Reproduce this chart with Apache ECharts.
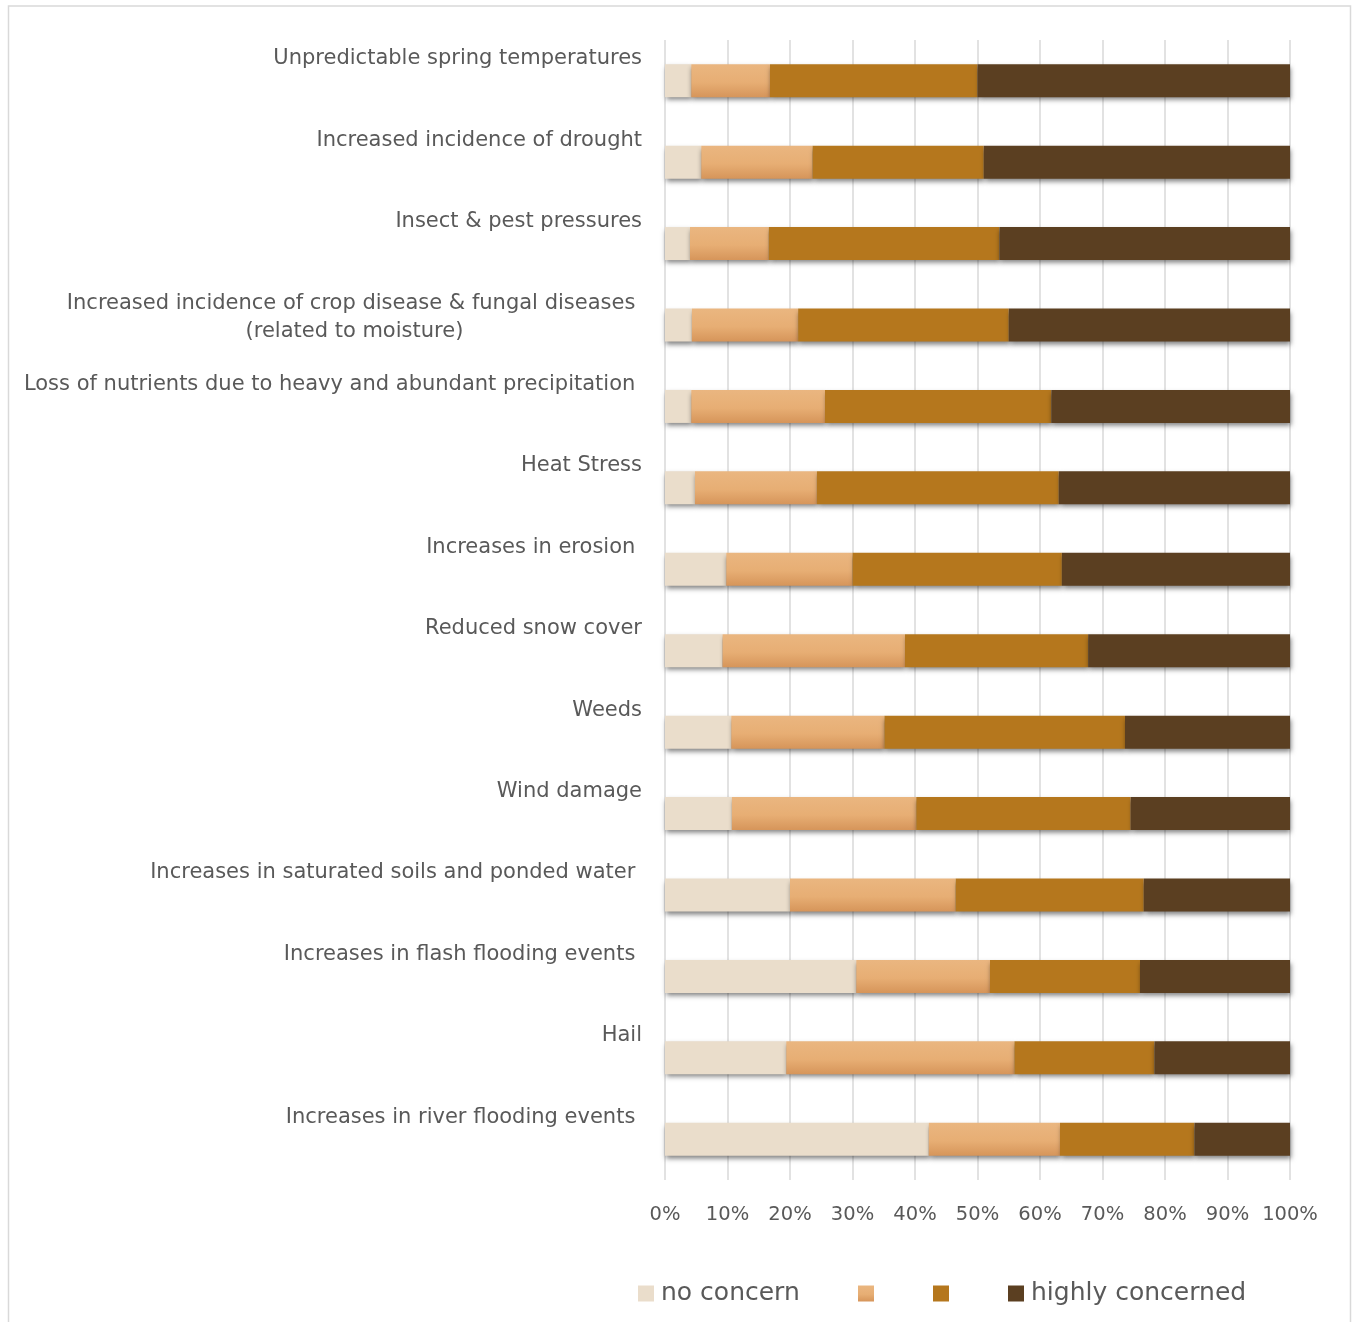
<!DOCTYPE html>
<html>
<head>
<meta charset="utf-8">
<script src="https://cdn.jsdelivr.net/npm/echarts@6/dist/echarts.min.js"></script>
<style>
html,body{margin:0;padding:0;background:#fff;}
#chart{position:absolute;left:0;top:0;width:1353px;height:1322px;}
</style>
</head>
<body>
<div id="chart"></div>
<script>
// Categories (top to bottom); trailing spaces mirror the source labels
const categories = [
  'Unpredictable spring temperatures',
  'Increased incidence of drought',
  'Insect & pest pressures',
  'Increased incidence of crop disease & fungal diseases \n(related to moisture)',
  'Loss of nutrients due to heavy and abundant precipitation ',
  'Heat Stress',
  'Increases in erosion ',
  'Reduced snow cover',
  'Weeds',
  'Wind damage',
  'Increases in saturated soils and ponded water ',
  'Increases in flash flooding events ',
  'Hail',
  'Increases in river flooding events '
];
const seriesNames = ['no concern', ' ', '  ', 'highly concerned'];
// Percent shares
const noConcern       = [4.2, 5.8, 4.0, 4.3, 4.2, 4.8, 9.8, 9.2, 10.6, 10.7, 20.0, 30.6, 19.4, 42.2];
const someConcern     = [12.6, 17.8, 12.6, 17.0, 21.4, 19.5, 20.2, 29.2, 24.5, 29.5, 26.5, 21.4, 36.5, 21.0];
const concerned       = [33.2, 27.4, 36.9, 33.7, 36.2, 38.7, 33.5, 29.3, 38.5, 34.3, 30.1, 24.0, 22.4, 21.5];
const highlyConcerned = [50.0, 49.0, 46.5, 45.0, 38.2, 37.0, 36.5, 32.3, 26.4, 25.5, 23.4, 24.0, 21.7, 15.3];
const xTicks = [0, 10, 20, 30, 40, 50, 60, 70, 80, 90, 100];

const FONT = 'DejaVu Sans';
const TXT = '#595959';

const shadow = {
  shadowColor: 'rgba(0,0,0,0.5)',
  shadowBlur: 5,
  shadowOffsetX: 1,
  shadowOffsetY: 3
};
const colors = [
  '#EADDCB',
  new echarts.graphic.LinearGradient(0, 0, 0, 1, [
    { offset: 0, color: '#EAB680' },
    { offset: 0.55, color: '#E7AE74' },
    { offset: 1, color: '#D6955A' }
  ]),
  '#B5771D',
  '#5B3F21'
];
const values = [noConcern, someConcern, concerned, highlyConcerned];

const series = seriesNames.map((n, i) => ({
  name: n,
  type: 'bar',
  stack: 'total',
  barWidth: 33,
  data: values[i],
  itemStyle: Object.assign({ color: colors[i] }, shadow),
  emphasis: { disabled: true }
}));

const legendLefts = [633, 853, 928, 1003];
const legends = seriesNames.map((n, i) => ({
  data: [n],
  left: legendLefts[i],
  top: 1276,
  icon: 'rect',
  itemWidth: 16,
  itemHeight: 16,
  selectedMode: false,
  textStyle: { fontFamily: FONT, fontSize: 25, color: TXT, padding: [0, 0, 0, 2] }
}));

const yData = categories.map(c => c.indexOf('\n') >= 0
  ? { value: c, textStyle: { padding: [0, 0, 14, 0] } }
  : c);

const option = {
  animation: false,
  backgroundColor: '#fff',
  graphic: [{
    type: 'rect',
    silent: true,
    shape: { x: 8.5, y: 6, width: 1342, height: 1340 },
    style: { fill: 'none', stroke: '#D9D9D9', lineWidth: 1.5 }
  }],
  grid: { left: 665, right: 63, top: 40, bottom: 142, containLabel: false },
  legend: legends,
  xAxis: {
    type: 'value',
    min: xTicks[0],
    max: xTicks[xTicks.length - 1],
    interval: 10,
    axisLine: { show: false },
    axisTick: { show: false },
    splitLine: { show: true, lineStyle: { color: '#D9D9D9', width: 1.5 } },
    axisLabel: {
      formatter: v => v + '%',
      fontFamily: FONT,
      fontSize: 19.5,
      color: TXT,
      margin: 25
    }
  },
  yAxis: {
    type: 'category',
    inverse: true,
    data: yData,
    axisLine: { show: false },
    axisTick: { show: false },
    splitLine: { show: false },
    axisLabel: {
      fontFamily: FONT,
      fontSize: 21,
      color: TXT,
      margin: 23,
      align: 'right',
      verticalAlign: 'middle',
      lineHeight: 28,
      padding: [0, 0, 44, 0],
      formatter: function (v) {
        if (v.indexOf('\n') >= 0) {
          const p = v.split('\n');
          return '{a|' + p[0] + '}\n{b|' + p[1] + '}';
        }
        return v;
      },
      rich: {
        a: { fontFamily: FONT, fontSize: 21, color: TXT, lineHeight: 28, align: 'right' },
        b: { fontFamily: FONT, fontSize: 21, color: TXT, lineHeight: 28, align: 'center' }
      }
    }
  },
  series: series
};

const chart = echarts.init(document.getElementById('chart'), null, { renderer: 'canvas' });
chart.setOption(option);
</script>
</body>
</html>
